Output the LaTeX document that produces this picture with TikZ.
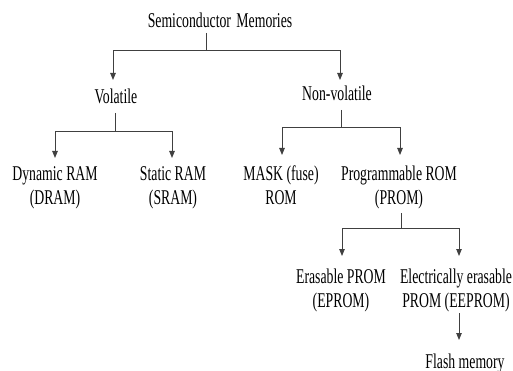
\documentclass[tikz,border=0pt]{standalone}
\usepackage{fontspec}
\setmainfont{Liberation Serif}[FakeStretch=0.655]
\usetikzlibrary{arrows.meta}
\begin{document}
\begin{tikzpicture}[x=1pt,y=-1pt,
  lbl/.style={anchor=base,inner sep=0pt,font=\fontsize{21}{24}\selectfont},
  ln/.style={draw=black!75,line width=0.9pt},
  arr/.style={ln,-{Triangle[width=5.5pt,length=7pt]}}]
\useasboundingbox (0,0) rectangle (513,371);
\newcommand\twol[2]{\begin{tabular}[t]{@{}c@{}}#1\\#2\end{tabular}}
% nodes
\node[lbl] (semi) at (220,28) {Semiconductor\hspace{2pt} Memories};
\node[lbl] (vol) at (116,104) {Volatile};
\node[lbl] (nvol) at (337,101) {Non-volatile};
\node[lbl] (dram) at (55,181) {\twol{Dynamic RAM}{(DRAM)}};
\node[lbl] (sram) at (173,181) {\twol{Static RAM}{(SRAM)}};
\node[lbl] (mask) at (281,181) {\twol{MASK (fuse)}{ROM}};
\node[lbl] (prom) at (399,181) {\twol{Programmable ROM}{(PROM)}};
\node[lbl] (eprom) at (341,283) {\twol{Erasable PROM}{(EPROM)}};
\node[lbl] (eeprom) at (456,283) {\twol{Electrically erasable}{PROM (EEPROM)}};
\node[lbl] (flash) at (465,368) {Flash memory};
% junctions and tips
\coordinate (s0) at (206,33);   \coordinate (s1) at (206,50);
\coordinate (tv) at (113,80);   \coordinate (tn) at (340,80);
\coordinate (v0) at (115,113);  \coordinate (v1) at (115,131);
\coordinate (td) at (55,158);   \coordinate (ts) at (172,158);
\coordinate (n0) at (341,110);  \coordinate (n1) at (341,127);
\coordinate (tm) at (282,155);  \coordinate (tp) at (400,155);
\coordinate (p0) at (401,213);  \coordinate (p1) at (401,228);
\coordinate (te) at (342,256);  \coordinate (tee) at (459,256);
\coordinate (f0) at (459,313);  \coordinate (tf) at (459,340);
% connectors
\draw[ln] (s0) -- (s1);
\draw[arr] (s1) -| (tv);
\draw[arr] (s1) -| (tn);
\draw[ln] (v0) -- (v1);
\draw[arr] (v1) -| (td);
\draw[arr] (v1) -| (ts);
\draw[ln] (n0) -- (n1);
\draw[arr] (n1) -| (tm);
\draw[arr] (n1) -| (tp);
\draw[ln] (p0) -- (p1);
\draw[arr] (p1) -| (te);
\draw[arr] (p1) -| (tee);
\draw[arr] (f0) -- (tf);
\end{tikzpicture}
\end{document}
